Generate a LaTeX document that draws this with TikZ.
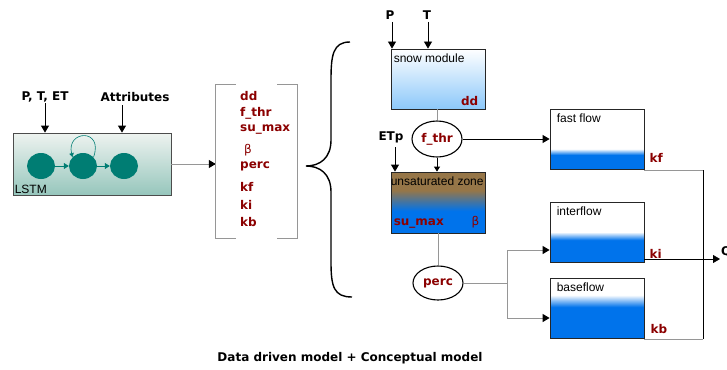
\documentclass[tikz,border=0pt]{standalone}
\usepackage{fontspec}
\setmainfont{Liberation Sans}
\newfontfamily\vfont{DejaVu Sans}
\usetikzlibrary{arrows.meta,calc,shapes.geometric}
\definecolor{dred}{RGB}{139,0,0}
\definecolor{tealc}{RGB}{0,125,115}
\definecolor{wblue}{RGB}{0,115,235}
\definecolor{brownc}{RGB}{150,118,72}
\definecolor{lineg}{RGB}{150,150,150}
\definecolor{snowb}{RGB}{140,200,250}
\definecolor{lstmtop}{RGB}{238,243,240}
\definecolor{lstmbot}{RGB}{150,198,188}
\pgfdeclareverticalshading{fastsh}{100bp}{color(0bp)=(wblue); color(36.7bp)=(wblue); color(41.7bp)=(white); color(100bp)=(white)}
\pgfdeclareverticalshading{intersh}{100bp}{color(0bp)=(wblue); color(43.3bp)=(wblue); color(50bp)=(white); color(100bp)=(white)}
\pgfdeclareverticalshading{basesh}{100bp}{color(0bp)=(wblue); color(50.8bp)=(wblue); color(60.8bp)=(white); color(100bp)=(white)}
\pgfdeclareverticalshading{unsatsh}{100bp}{color(0bp)=(wblue); color(43bp)=(wblue); color(60bp)=(brownc); color(100bp)=(brownc)}
\tikzset{
  lbl/.style={font=\vfont\bfseries\fontsize{12}{14}\selectfont, inner sep=1pt},
  par/.style={font=\vfont\bfseries\fontsize{12}{14}\selectfont, text=dred, inner sep=1pt},
  greek/.style={font=\vfont\fontsize{12}{14}\selectfont, text=dred, inner sep=1pt},
  btxt/.style={font=\fontsize{12}{14}\selectfont, inner sep=0pt},
  box/.style={draw=black!85, line width=0.8pt, minimum width=94, minimum height=60, inner sep=0pt},
  ell/.style={ellipse, draw=black, line width=1.1pt, fill=white, minimum width=50, minimum height=36, inner sep=0pt},
  lell/.style={ellipse, fill=tealc, minimum width=28, minimum height=26, inner sep=0pt},
  arr/.style={line width=0.8pt, -{Triangle[length=7pt,width=8pt]}},
  garr/.style={draw=lineg, line width=1pt, -{Triangle[length=7pt,width=8pt,color=black]}},
  gline/.style={draw=lineg, line width=1pt},
  bline/.style={draw=black, line width=0.8pt},
}
\begin{document}
\begin{tikzpicture}[x=1pt,y=-1pt]
\useasboundingbox (0,0) rectangle (727,369);
% LSTM part
\node[lbl] (ptet) at (45,97) {P, T, ET};
\node[lbl] (attr) at (135,97) {Attributes};
\node[draw=black!70, line width=0.8pt, minimum width=158, minimum height=62, inner sep=0pt,
      top color=lstmtop, bottom color=lstmbot] (lstm) at (92,164) {};
\coordinate (attrarr) at (122,105);
\draw[arr] (ptet.south) -- (ptet.south |- lstm.north);
\draw[arr] (attrarr) -- (attrarr |- lstm.north);
\node[lell] (e1) at (41,166) {};
\node[lell] (e2) at (83,166) {};
\node[lell] (e3) at (124,166) {};
\draw[tealc, line width=0.8pt, -{Triangle[length=5pt,width=6pt]}] (e1) -- (e2);
\draw[tealc, line width=0.8pt, -{Triangle[length=5pt,width=6pt]}] (e2) -- (e3);
\draw[tealc, line width=0.6pt, -{Triangle[length=4pt,width=4.5pt]}] (e2.40) .. controls (104,128) and (66,130) .. (e2.140);
\node[btxt, anchor=south west] (lstmt) at ($(lstm.south west)+(2,-2)$) {LSTM};
% bracket
\node[minimum width=81, minimum height=153, inner sep=0pt] (brk) at (256.5,161.5) {};
\draw[garr] (lstm.east) -- (lstm.east -| brk.west);
\draw[lineg, line width=0.9pt] (brk.north west) ++(20,0) -- (brk.north west) -- (brk.south west) -- ++(20,0);
\draw[lineg, line width=0.9pt] (brk.north east) ++(-20,0) -- (brk.north east) -- (brk.south east) -- ++(-20,0);
\node[par, anchor=west] (q1) at (239,96) {dd};
\node[par, anchor=west] (q2) at (239,113) {f\_thr};
\node[par, anchor=west] (q3) at (239,130) {su\_max};
\node[greek, anchor=west] (q4) at (243,150) {β};
\node[par, anchor=west] (q5) at (239,166) {perc};
\node[par, anchor=west] (q6) at (239,187) {kf};
\node[par, anchor=west] (q7) at (239,205) {ki};
\node[par, anchor=west] (q8) at (239,222) {kb};
% brace
\draw[line width=1.4pt] (350,42) .. controls (333,42) and (331,55) .. (331,80) -- (331,140)
  .. controls (331,158) and (320,166) .. (306,166) .. controls (320,166) and (331,174) .. (331,192)
  -- (331,262) .. controls (331,287) and (334,297) .. (352,297);
% conceptual model
\node[lbl] (P) at (390,15) {P};
\node[lbl] (T) at (427,15) {T};
\node[box, top color=white, bottom color=snowb] (snow) at (438,79) {};
\node[btxt, anchor=north west] at ($(snow.north west)+(3,5)$) {snow module};
\node[par, anchor=south east] at ($(snow.south east)+(-6,-3)$) {dd};
\draw[arr] (392,22) -- (392,0 |- snow.north);
\draw[arr] (428,22) -- (428,0 |- snow.north);
\node[ell] (fthr) at (437,139) {};
\node[par] at (fthr) {f\_thr};
\draw[gline] (snow.south -| fthr) -- (fthr.north);
\node[lbl] (etp) at (391,137) {ETp};
\node[box, minimum height=61, shading=unsatsh] (unsat) at (438,202.5) {};
\node[btxt, anchor=north west] at ($(unsat.north west)+(0,5)$) {unsaturated zone};
\node[par, anchor=south west] at ($(unsat.south west)+(2,-4)$) {su\_max};
\node[greek, anchor=south east] at ($(unsat.south east)+(-5,-4)$) {β};
\draw[arr] (395,147) -- (395,0 |- unsat.north);
\draw[line width=0.8pt, -{Triangle[length=5pt,width=6pt]}] (fthr.south) -- (fthr.south |- unsat.north);
\node[ell, minimum height=34] (perc) at (438,283) {};
\node[par] at (perc) {perc};
\draw[gline] (unsat.south -| perc) -- (perc.north);
% flow boxes
\node[box, shading=fastsh] (fast) at (597,139) {};
\node[box, shading=intersh] (inter) at (597,232) {};
\node[box, shading=basesh] (base) at (597,308) {};
\node[btxt, anchor=north west] at ($(fast.north west)+(7,5)$) {fast flow};
\node[btxt, anchor=north west] at ($(inter.north west)+(7,5)$) {interflow};
\node[btxt, anchor=north west] at ($(base.north west)+(7,5)$) {baseflow};
\node[par, anchor=south west] at ($(fast.south east)+(4,-6)$) {kf};
\node[par, anchor=south west] at ($(inter.south east)+(4,-3)$) {ki};
\node[par, anchor=south west] at ($(base.south east)+(5,-4)$) {kb};
\draw[arr] (fthr.east) -- (fthr.east -| fast.west);
\coordinate (split) at (507,283);
\draw[gline] (perc.east |- split) -- (split);
\draw[garr] (split) |- ($(inter.west)+(0,18)$);
\draw[garr] (split) |- ($(base.west)+(0,10)$);
% outputs
\coordinate (qtop) at (703,170);
\coordinate (qbot) at (703,339);
\coordinate (qout) at (720,259);
\node[lbl, anchor=west, inner sep=0pt] (Q) at (721,252) {Q};
\draw[gline] (fast.south east |- qtop) -- (qtop);
\draw[bline] (qtop) -- (qbot);
\draw[gline] (base.south east |- qbot) -- (qbot);
\draw[arr] (qout -| inter.east) -- (qout);
% title
\node[lbl] (title) at (350,358) {Data driven model + Conceptual model};
\end{tikzpicture}
\end{document}
